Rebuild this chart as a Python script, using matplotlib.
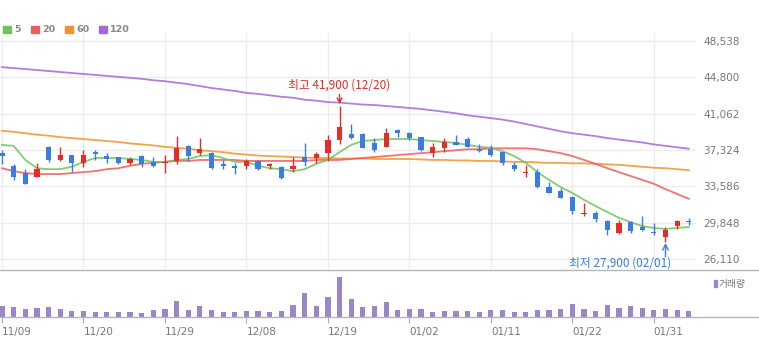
import numpy as np
import matplotlib
matplotlib.use("Agg")
import matplotlib.pyplot as plt
from matplotlib.patches import Rectangle

# trading days shown on the chart
dates = ["11/09", "11/10", "11/13", "11/14", "11/15", "11/16", "11/17", "11/20", "11/21", "11/22",
         "11/23", "11/24", "11/27", "11/28", "11/29", "11/30", "12/01", "12/04", "12/05", "12/06",
         "12/07", "12/08", "12/11", "12/12", "12/13", "12/14", "12/15", "12/18", "12/19", "12/20",
         "12/21", "12/22", "12/26", "12/27", "12/28", "01/02", "01/03", "01/04", "01/05", "01/08",
         "01/09", "01/10", "01/11", "01/12", "01/15", "01/16", "01/17", "01/18", "01/19", "01/22",
         "01/23", "01/24", "01/25", "01/26", "01/29", "01/30", "01/31", "02/01", "02/02", "02/05"]

opens = [37000, 35700, 34950, 34550, 37650, 36300, 36800, 36000, 37100, 36700,
         36600, 36000, 36700, 36100, 36000, 36200, 37750, 37000, 37000, 35900,
         35700, 35700, 36200, 35700, 35600, 35350, 36600, 36500, 37000, 38350,
         38950, 38950, 38050, 37650, 39400, 39050, 38650, 37000, 37550, 38150,
         38450, 37400, 37400, 37100, 35800, 34950, 35050, 33500, 33100, 32500,
         30750, 30850, 30000, 28800, 29900, 29400, 28900, 28350, 29500, 30000]
highs = [37300, 35900, 35350, 36000, 37750, 37650, 36800, 37300, 37300, 37000,
         36650, 36600, 36800, 36600, 36800, 38750, 37850, 38550, 37100, 36300,
         36000, 36400, 36300, 36000, 35700, 36600, 38050, 37100, 38850, 41900,
         40000, 39050, 38550, 39600, 39450, 39150, 38700, 38050, 38550, 38850,
         38650, 37950, 37850, 37150, 36100, 35800, 35350, 34050, 33400, 32600,
         31850, 31050, 30100, 30100, 30000, 30550, 29800, 29400, 30100, 30350]
lows = [35900, 34250, 33800, 34500, 36100, 36200, 35050, 35600, 36300, 36000,
        35900, 35800, 35600, 35600, 34950, 35900, 36200, 36800, 35400, 35350,
        34850, 35350, 35250, 35350, 34350, 35050, 35700, 36000, 36200, 37950,
        38450, 37500, 37100, 37600, 38650, 38350, 37200, 36600, 37100, 37800,
        37600, 37100, 36750, 35800, 35150, 34550, 33450, 32850, 32350, 30750,
        30550, 29900, 28600, 28700, 28800, 29000, 28600, 27900, 29200, 29600]
closes = [36700, 34550, 33850, 35350, 36300, 36800, 36000, 36800, 36900, 36400,
          36000, 36400, 35900, 35700, 36100, 37500, 36700, 37450, 35450, 35700,
          35450, 36200, 35350, 35900, 34450, 35700, 36100, 36900, 38350, 39700,
          38550, 37550, 37300, 39050, 39050, 38550, 37300, 37650, 38150, 37850,
          37650, 37200, 36800, 36000, 35350, 35050, 33500, 32900, 32400, 31050,
          30850, 30250, 29100, 29800, 29000, 29100, 28800, 29100, 30000, 29900]

# moving averages (5 / 20 / 60 / 120 days)
ma5 = [37850, 37750, 36300, 35450, 35350, 35350, 35600, 36100, 36500, 36500,
       36500, 36400, 36300, 36100, 36100, 36300, 36400, 36700, 36800, 36500,
       36100, 36100, 35700, 35450, 35350, 35150, 35350, 35900, 36300, 37100,
       37850, 38250, 38350, 38450, 38450, 38450, 38350, 38250, 38150, 38050,
       37850, 37650, 37550, 37200, 36700, 36000, 35050, 34250, 33500, 32900,
       32200, 31550, 30950, 30350, 29900, 29500, 29300, 29200, 29300, 29400]
ma20 = [35450, 35150, 34950, 34850, 34850, 34850, 34950, 35050, 35150, 35350,
        35450, 35700, 35900, 36000, 36100, 36200, 36200, 36300, 36300, 36300,
        36300, 36200, 36200, 36200, 36200, 36200, 36200, 36300, 36300, 36300,
        36400, 36500, 36600, 36700, 36800, 36900, 37000, 37100, 37200, 37300,
        37400, 37400, 37500, 37500, 37500, 37500, 37400, 37200, 37000, 36700,
        36300, 35900, 35450, 35050, 34650, 34250, 33850, 33300, 32800, 32300]
ma60 = [39300, 39200, 39050, 38900, 38800, 38650, 38550, 38450, 38350, 38250,
        38150, 38000, 37900, 37800, 37650, 37550, 37450, 37300, 37200, 37100,
        36950, 36850, 36750, 36700, 36650, 36600, 36550, 36500, 36500, 36450,
        36450, 36450, 36400, 36400, 36400, 36400, 36350, 36300, 36300, 36250,
        36250, 36200, 36200, 36150, 36100, 36100, 36050, 36000, 36000, 35950,
        35950, 35900, 35850, 35800, 35700, 35600, 35500, 35450, 35350, 35250]
ma120 = [45850, 45750, 45650, 45550, 45450, 45350, 45250, 45150, 45050, 44950,
         44850, 44750, 44650, 44500, 44400, 44250, 44100, 43900, 43700, 43550,
         43400, 43200, 43100, 42950, 42800, 42700, 42500, 42400, 42250, 42200,
         42100, 42000, 41950, 41850, 41750, 41650, 41550, 41400, 41250, 41100,
         40900, 40750, 40600, 40450, 40250, 40000, 39750, 39500, 39250, 39050,
         38900, 38750, 38550, 38400, 38250, 38100, 37900, 37750, 37600, 37450]

# volume in thousand shares
volume = [165, 150, 115, 130, 150, 115, 85, 85, 70, 70,
          70, 70, 55, 100, 115, 235, 100, 165, 100, 70,
          70, 85, 85, 70, 85, 185, 350, 165, 300, 595,
          265, 150, 165, 220, 100, 115, 115, 70, 85, 85,
          85, 70, 100, 100, 70, 70, 100, 100, 115, 200,
          115, 85, 185, 135, 165, 135, 100, 115, 100, 85]

price_ticks = [26110, 29848, 33586, 37324, 41062, 44800, 48538]
ma_names = ["5", "20", "60", "120"]
ma_colors = ["#6cc35a", "#f05a5a", "#f5922a", "#a468d6"]

UP = "#e32d27"
DOWN = "#3a7de0"
VOL = "#9b86c9"
GRID = "#ececec"
TXT = "#777777"

W, H = 759, 341
fig = plt.figure(figsize=(W / 100, H / 100), dpi=100)
fig.patch.set_facecolor("white")

px = 11.64  # pixels per candle
x0 = -2 / px
ax = fig.add_axes([0, 1 - 269 / H, 696 / W, 236 / H])
axv = fig.add_axes([0, 1 - 317 / H, 1.0, 47 / H])

n = len(closes)
idx = np.arange(n)

# price pane
ax.set_xlim(x0, x0 + 696 / px)
step = price_ticks[1] - price_ticks[0]
ax.set_ylim(price_ticks[0] - step * 10 / 36.3, price_ticks[-1] + step * 8 / 36.3)
for s in ax.spines.values():
    s.set_visible(False)
ax.set_xticks(idx[::7])
ax.set_xticklabels([])
ax.set_yticks(price_ticks)
ax.set_yticklabels([f"{v:,}" for v in price_ticks])
ax.yaxis.tick_right()
ax.tick_params(axis="both", length=0)
ax.tick_params(axis="y", pad=5, labelsize=7.5, labelcolor=TXT)
ax.grid(True, color=GRID, lw=1)
ax.set_axisbelow(True)

for vals, c in zip([ma120, ma60, ma20, ma5], ma_colors[::-1]):
    ax.plot(idx, vals, color=c, lw=1.3, alpha=0.85, zorder=2)

for i in range(n):
    o, h, l, c = opens[i], highs[i], lows[i], closes[i]
    col = UP if c >= o else DOWN
    ax.vlines(i, l, h, color=col, lw=1, zorder=3)
    body = max(abs(c - o), 60)
    ax.bar(i, body, bottom=min(o, c), width=0.45, color=col, zorder=4)

# highest / lowest markers
kr = ["Noto Sans CJK KR", "DejaVu Sans"]
hi = int(np.argmax(highs))
lo = int(np.argmin(lows))
ax.annotate(f"최고 {highs[hi]:,} ({dates[hi]})", xy=(hi, highs[hi]), xytext=(0, 10),
            textcoords="offset points", ha="center", va="bottom", color=UP,
            fontsize=8.5, family=kr,
            arrowprops=dict(arrowstyle="->", color=UP, lw=1, shrinkA=0, shrinkB=1))
ax.annotate("", xy=(lo, lows[lo]), xytext=(0, -11), textcoords="offset points",
            arrowprops=dict(arrowstyle="->", color=DOWN, lw=1, shrinkA=0, shrinkB=1))
ax.annotate(f"최저 {lows[lo]:,} ({dates[lo]})", xy=(lo, lows[lo]), xytext=(4, -15.5),
            textcoords="offset points", ha="right", va="center", color=DOWN,
            fontsize=8.5, family=kr)

# volume pane
axv.set_xlim(x0, x0 + W / px)
axv.set_ylim(0, max(volume) * 47 / 40)
axv.bar(idx, volume, width=0.45, color=VOL)
for k in ["left", "right"]:
    axv.spines[k].set_visible(False)
for k in ["top", "bottom"]:
    axv.spines[k].set_color("#b5b5b5")
    axv.spines[k].set_linewidth(1)
axv.set_yticks([])
axv.set_xticks(idx[::7])
axv.set_xticklabels(dates[::7], ha="left")
axv.tick_params(axis="x", length=4, color="#aaaaaa", pad=3, labelsize=7.5, labelcolor=TXT)

# legends
lx = 3
for name, c in zip(ma_names, ma_colors):
    fig.add_artist(Rectangle((lx / W, 1 - 33 / H), 8 / W, 7 / H, color=c,
                             transform=fig.transFigure))
    t = fig.text((lx + 11) / W, 1 - 29.5 / H, name, fontsize=6.8, fontweight="bold",
                 color="#888888", va="center", ha="left")
    lx += {"5": 28, "20": 34, "60": 34}.get(name, 0)

fig.add_artist(Rectangle((714 / W, 1 - 287 / H), 2.5 / W, 7 / H, color=VOL,
                         transform=fig.transFigure))
fig.text(719 / W, 1 - 283.5 / H, "거래량", fontsize=7, color="#777777",
         va="center", ha="left", family=kr)

fig.savefig("out.png", dpi=100, facecolor="white")
